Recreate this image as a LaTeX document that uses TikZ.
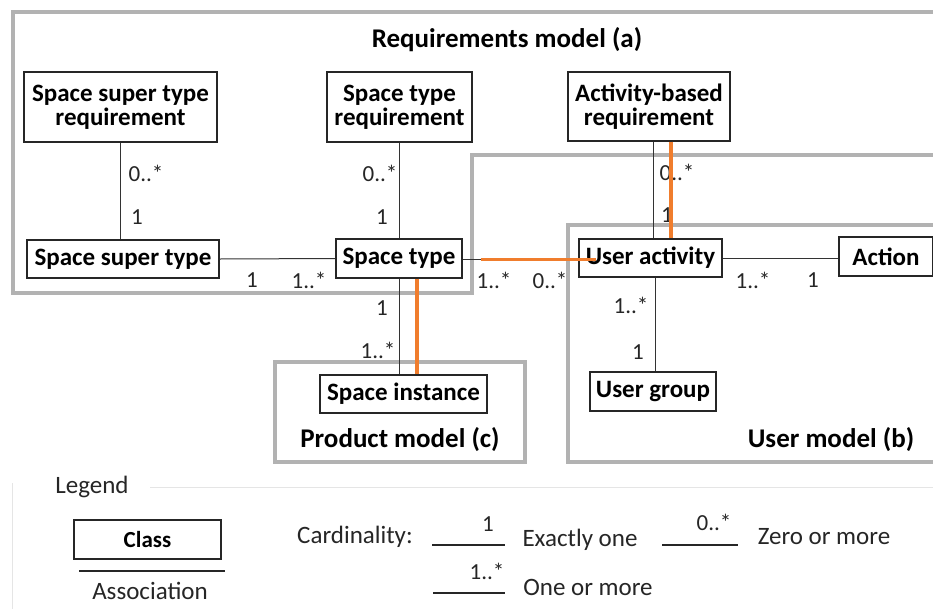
\documentclass[tikz,border=0pt]{standalone}
\usepackage{fontspec}
\setmainfont{Carlito}
\begin{document}
\begin{tikzpicture}[x=1pt,y=-1pt,
  cls/.style={draw=black!85, line width=1.2pt, fill=white, inner sep=0pt, align=center,
    font=\bfseries\fontsize{25}{24}\selectfont},
  frame/.style={draw=black!30, line width=4pt},
  assoc/.style={draw=black!80, line width=1pt},
  hl/.style={line width=3.5pt, draw={rgb,255:red,240;green,125;blue,45}},
  card/.style={font=\fontsize{23}{24}\selectfont, text=black!85, inner sep=0pt},
  ftitle/.style={font=\bfseries\fontsize{27}{28}\selectfont, inner sep=0pt},
  leg/.style={font=\fontsize{25}{26}\selectfont, inner sep=0pt, text=black!85}]
\clip (0,0) rectangle (933,608);
\fill[white] (0,0) rectangle (933,608);

% frames
\draw[frame] (950,12) -- (13,12) -- (13,293) -- (472,293) -- (472,155) -- (950,155);
\draw[frame] (950,225) -- (568,225) -- (568,462) -- (950,462);
\draw[frame] (275,362) rectangle (525,462);
\node[ftitle] (treq) at (507,40) {Requirements model (a)};
\node[ftitle] (tprod) at (400,440) {Product model (c)};
\node[ftitle] (tuser) at (831,440) {User model (b)};

% classes
\node[cls, minimum width=193pt, minimum height=70pt] (sstr) at (120.5,107) {Space super type\\requirement};
\node[cls, minimum width=145pt, minimum height=70pt] (str) at (399.5,107) {Space type\\requirement};
\node[cls, minimum width=162pt, minimum height=69pt] (abr) at (649,106.5) {Activity-based\\requirement};
\node[cls, minimum width=192pt, minimum height=38pt] (sst) at (123,259) {Space super type};
\node[cls, minimum width=126pt, minimum height=39pt] (st) at (399,258.5) {Space type};
\node[cls, minimum width=143pt, minimum height=38pt] (ua) at (650.5,258) {User activity};
\node[cls, minimum width=94pt, minimum height=39pt] (act) at (886,256.5) {Action};
\node[cls, minimum width=167pt, minimum height=38pt] (si) at (403.5,394) {Space instance};
\node[cls, minimum width=126pt, minimum height=39pt] (ug) at (653,391.5) {User group};

% associations
\draw[assoc] ([xshift=-0.5pt]sstr.south) -- ([xshift=-0.5pt]sstr.south |- sst.north);
\draw[assoc] ([xshift=-0.5pt]str.south) -- ([xshift=-0.5pt]str.south |- st.north);
\draw[assoc] (sst.east) -- (st.west);
\draw[assoc] ([yshift=-1pt]st.east) -- ([yshift=-1pt]st.east -| ua.west);
\draw[assoc] ([yshift=-0.5pt]ua.east) -- ([yshift=-0.5pt]ua.east -| act.west);
\draw[assoc] ([xshift=4pt]abr.south) -- ([xshift=4pt]abr.south |- ua.north);
\draw[assoc] (st.south) -- (st.south |- si.north);
\draw[assoc] ([xshift=4.5pt]ua.south) -- ([xshift=4.5pt]ua.south |- ug.north);

% cardinalities
\node[card] (c1) at (146,173) {0..*};
\node[card] (c2) at (137,217) {1};
\node[card] (c3) at (380,173) {0..*};
\node[card] (c4) at (382,217) {1};
\node[card] (c5) at (252,280) {1};
\node[card] (c6) at (309,280) {1..*};
\node[card] (c7) at (677,172) {0..*};
\node[card] (c8) at (667,215) {1};
\node[card] (c9) at (494,280) {1..*};
\node[card] (c10) at (550,280) {0..*};
\node[card] (c11) at (753,280) {1..*};
\node[card] (c12) at (813,280) {1};
\node[card] (c13) at (382,308) {1};
\node[card] (c14) at (378,350) {1..*};
\node[card] (c15) at (631,305) {1..*};
\node[card] (c16) at (638,352) {1};

% highlighted path
\draw[hl] ([xshift=22pt]abr.south) -- ([xshift=22pt]abr.south |- ua.north);
\draw[hl] ([xshift=18pt,yshift=-1pt]st.east) -- ([xshift=18pt,yshift=-1pt]st.east -| ua.west);
\draw[hl] ([xshift=18pt]st.south) -- ([xshift=18pt]st.south |- si.north);

% legend
\draw[draw=black!10, line width=1pt] (12,483) -- (12,610);
\draw[draw=black!10, line width=1pt] (150,487) -- (940,487);
\node[leg] (legt) at (92,487) {Legend};
\node[draw=black!85, line width=2.2pt, minimum width=147pt, minimum height=39pt, inner sep=0pt,
  font=\bfseries\fontsize{23}{24}\selectfont] (lcls) at (147.5,539.5) {Class};
\coordinate (la1) at (79,571);
\coordinate (la2) at (225,571);
\draw[draw=black!85, line width=1.5pt] (la1) -- (la2);
\node[leg] (lass) at (150,591) {Association};
\node[leg] (lcard) at (355,537) {Cardinality:};
\coordinate (l1a) at (432,545); \coordinate (l1b) at (505,545);
\draw[draw=black!85, line width=1.3pt] (l1a) -- (l1b);
\node[card] (l1t) at (488,524) {1};
\node[leg] (l1d) at (580,540) {Exactly one};
\coordinate (l2a) at (662,545); \coordinate (l2b) at (738,545);
\draw[draw=black!85, line width=1.3pt] (l2a) -- (l2b);
\node[card] (l2t) at (714,522) {0..*};
\node[leg] (l2d) at (824,537) {Zero or more};
\coordinate (l3a) at (433,593); \coordinate (l3b) at (505,593);
\draw[draw=black!85, line width=1.3pt] (l3a) -- (l3b);
\node[card] (l3t) at (487,571) {1..*};
\node[leg] (l3d) at (588,587) {One or more};
\end{tikzpicture}
\end{document}
